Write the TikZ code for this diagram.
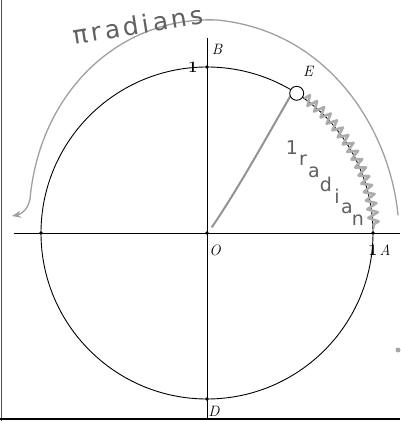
\documentclass[tikz,border=0pt]{standalone}
\usepackage{fontspec}
\newfontfamily\handfont[LetterSpace=14]{DejaVu Sans}
\newfontfamily\handfontb{DejaVu Sans}
\usetikzlibrary{decorations.pathmorphing,arrows.meta}
\begin{document}
\begin{tikzpicture}[x=1pt,y=1pt,
  axis/.style={line width=0.8pt,black},
  circ/.style={line width=0.9pt,black},
  hand/.style={draw=gray!75,line width=1.3pt,line cap=round,line join=round},
  handtext/.style={text=gray!75!black,font=\handfont\fontsize{25}{27}\selectfont},
  handletter/.style={text=gray!75!black,font=\handfontb\fontsize{19}{21}\selectfont,inner sep=0pt},
  lbl/.style={font=\fontsize{15}{16}\selectfont\itshape},
  one/.style={font=\fontsize{16}{17}\selectfont\bfseries},
  pt/.style={circle,fill=black,inner sep=0pt,minimum size=3.8pt}]
\useasboundingbox (0,0) rectangle (400,421);
% frame
\draw[line width=1pt,gray!60!black] (1,0) -- (1,421);
\draw[line width=1.2pt,black] (0,2) -- (400,2);
% points
\coordinate (O) at (207,188);
\coordinate (A) at (373,188);
\coordinate (B) at (207,354);
\coordinate (C) at (41,188);
\coordinate (D) at (207,22);
\coordinate (E) at (296.7,327.7);
\coordinate (xl) at (14,188);
\coordinate (xr) at (400,188);
\coordinate (yt) at (207,383);
\coordinate (yb) at (207,2);
% axes
\draw[axis] (xl) -- (xr);
\draw[axis] (yb) -- (yt);
% unit circle
\draw[circ] (O) circle[radius=166pt];
\foreach \p in {O,A,B,C,D} \node[pt] at (\p) {};
% hand zigzag along arc E -> A
\draw[hand,draw=gray!65,line width=2.6pt,decorate,decoration={zigzag,segment length=9pt,amplitude=5pt}]
  ([shift={(54:167pt)}]O) arc[start angle=54,end angle=2,radius=167pt];
% hand radius O -> E
\coordinate (rs) at (212,194);
\coordinate (re) at (291,326);
\draw[hand,draw=gray!85,line width=2pt] (rs) .. controls (240,235) and (270,290) .. (re);
% point E
\node[circle,draw=black,fill=white,line width=0.9pt,minimum size=14pt,inner sep=0pt] (Ep) at (E) {};
% labels
\node[lbl] (lB) at (217,372) {B};
\node[one] (l1b) at (193,354) {1};
\node[lbl] (lE) at (308,350) {E};
\node[lbl] (lO) at (215,171) {O};
\node[one] (l1a) at (373,171) {1};
\node[lbl] (lA) at (385,171) {A};
\node[lbl] (lD) at (214,10) {D};
% hand pi-radians arc
\coordinate (g0) at (398,206);
\coordinate (gend) at (12,205);
\draw[hand,-{Stealth[length=9pt,width=7pt]}] (g0) .. controls (390,290) and (330,390) .. (217,401)
  .. controls (120,405) and (40,330) .. (30,222) .. controls (28,212) and (22,207) .. (gend);
% hand texts
\node[handtext,rotate=9] (pr) at (138,396) {πradians};
\node[handletter] (r1) at (292,273) {1};
\node[handletter] (r2) at (303,261) {r};
\node[handletter] (r3) at (314,249) {a};
\node[handletter] (r4) at (326,237) {d};
\node[handletter] (r5) at (337,225) {i};
\node[handletter] (r6) at (347,213) {a};
\node[handletter] (r7) at (358,201) {n};
% stray mark
\fill[gray!70] (398,71) circle[radius=2.5pt];
\end{tikzpicture}
\end{document}
